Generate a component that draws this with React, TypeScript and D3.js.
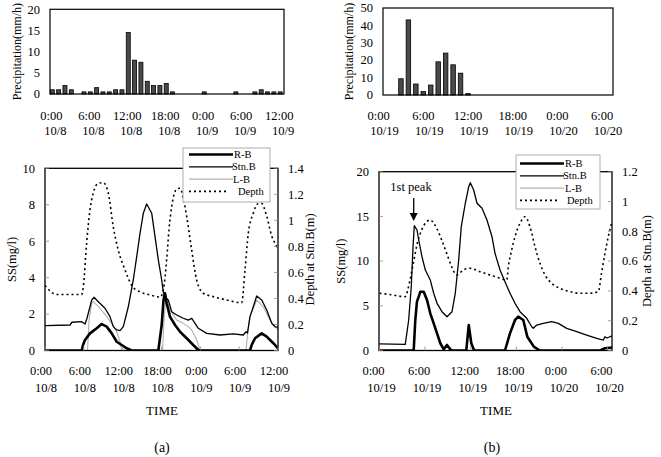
import React from 'react';
import * as d3 from 'd3';

// ---------- DATA ----------
// (a) hourly precipitation, 0:00 10/8 .. 12:00 10/9 (mm/h)
const rainA = [1, 1, 2, 1, 0, 0.5, 0.5, 1.5, 0.5, 0.5, 1, 1, 14.5, 8, 7.5, 3, 2, 2, 2.5, 0.5, 0, 0, 0, 0, 0.5, 0, 0, 0, 0, 0.5, 0, 0, 0.5, 1, 0.5, 0.5, 0.5];
// (b) hourly precipitation, 0:00 10/19 .. 6:00 10/20 (mm/h)
const rainB = [0, 0, 0, 9.3, 43, 6.3, 2, 5.7, 19, 24, 17.3, 12.5, 0.8, 0, 0, 0, 0, 0, 0, 0, 0, 0, 0, 0, 0, 0, 0, 0, 0, 0, 0];

const timeLabelsA = ['0:00', '6:00', '12:00', '18:00', '0:00', '6:00', '12:00'];
const dateLabelsA = ['10/8', '10/8', '10/8', '10/8', '10/9', '10/9', '10/9'];
const timeLabelsB = ['0:00', '6:00', '12:00', '18:00', '0:00', '6:00'];
const dateLabelsB = ['10/19', '10/19', '10/19', '10/19', '10/20', '10/20'];

const rainTicksA = [0, 5, 10, 15, 20];
const rainTicksB = [0, 10, 20, 30, 40, 50];
const ssTicksA = [0, 2, 4, 6, 8, 10];
const depthTicksA = ['0', '0.2', '0.4', '0.6', '0.8', '1', '1.2', '1.4'];
const ssTicksB = [0, 5, 10, 15, 20];
const depthTicksB = ['0', '0.2', '0.4', '0.6', '0.8', '1', '1.2'];

// (a) series: [hours from 0:00 10/8, value]
const aDepth: [number, number][] = [
  [0, 0.5], [1.8, 0.43], [5.67, 0.43], [5.92, 0.49], [6.44, 0.83], [6.95, 1.08], [7.46, 1.21], [8.24, 1.285],
  [9.0, 1.29], [9.78, 1.21], [10.55, 0.95], [11.33, 0.77], [12.36, 0.62], [13.4, 0.5], [14.68, 0.45], [16.22, 0.427],
  [17.26, 0.414], [17.8, 0.41], [18.28, 0.465], [18.8, 0.7], [19.16, 0.93], [19.62, 1.12], [20.35, 1.24], [20.86, 1.247],
  [21.37, 1.17], [21.89, 1.03], [22.67, 0.77], [23.44, 0.54], [24.46, 0.44], [26.0, 0.414], [28.08, 0.388], [30.39, 0.367],
  [30.9, 0.62], [31.41, 0.9], [32.18, 1.055], [32.96, 1.13], [33.48, 1.13], [34.26, 1.03], [35.03, 0.88], [35.8, 0.8], [36, 0.78],
];
const aStn: [number, number][] = [
  [0, 1.36], [3.86, 1.4], [4.17, 1.55], [5.67, 1.58], [6.18, 1.45], [6.49, 1.77], [7.22, 2.77], [7.57, 2.92],
  [8.24, 2.68], [9.27, 2.32], [10.04, 1.86], [10.55, 1.31], [11.08, 1.13], [11.59, 1.09], [12.1, 1.31], [12.87, 2.4],
  [13.64, 3.87], [14.17, 5.15], [14.68, 6.43], [15.19, 7.53], [15.71, 8.04], [16.49, 7.53], [17.0, 6.25], [17.51, 4.97],
  [18.03, 3.87], [18.28, 3.21], [18.54, 2.94], [19.05, 2.77], [19.58, 2.13], [20.35, 1.95], [21.37, 1.77], [22.14, 1.67],
  [22.67, 1.77], [23.18, 1.49], [23.69, 1.22], [24.98, 0.94], [27.04, 0.85], [29.09, 0.91], [30.64, 0.85], [31.06, 1.03],
  [31.29, 0.96], [31.67, 1.86], [32.18, 2.4], [32.71, 2.99], [33.48, 2.77], [34.26, 2.22], [35.03, 1.49], [35.54, 1.3], [36, 1.28],
];
const aRB: [number, number][] = [
  [0, 0], [5.67, 0], [5.87, 0.3], [6.18, 0.58], [6.95, 0.94], [7.99, 1.22], [8.76, 1.45], [9.53, 1.31], [10.31, 0.94],
  [11.08, 0.48], [11.85, 0.3], [12.62, 0.12], [13.4, 0], [17.51, 0], [18.03, 1.4], [18.31, 2.77], [18.54, 3.14],
  [18.8, 2.59], [19.31, 1.86], [20.09, 1.4], [20.86, 1.03], [21.89, 0.67], [22.91, 0.3], [23.69, 0.03], [23.95, 0],
  [31.67, 0], [31.93, 0.3], [32.45, 0.67], [33.48, 0.94], [34.26, 0.76], [35.28, 0.4], [36, 0.12],
];
const aLB: [number, number][] = [
  [0, 0], [6.57, 0], [6.8, 1.67], [7.22, 2.59], [7.46, 2.68], [8.5, 2.32], [9.53, 1.86], [10.31, 1.49], [11.08, 1.03],
  [11.59, 0.48], [11.85, 0], [18.16, 0], [18.39, 1.67], [18.7, 2.95], [19.31, 2.22], [20.35, 1.67], [21.37, 1.49],
  [22.14, 1.31], [22.67, 1.13], [23.44, 0.58], [23.95, 0], [31.06, 0], [31.37, 1.13], [31.67, 1.86], [32.71, 2.77],
  [33.73, 2.4], [34.76, 1.67], [36, 1.13],
];

// (b) series: [hours from 0:00 10/19, value]
const bDepth: [number, number][] = [
  [0, 0.384], [1.82, 0.372], [3.36, 0.361], [4.01, 0.473], [4.45, 0.585], [4.97, 0.719], [5.55, 0.809], [6.21, 0.864],
  [6.64, 0.876], [7.53, 0.82], [8.18, 0.742], [8.84, 0.652], [9.5, 0.562], [10.16, 0.507], [11.03, 0.54], [11.91, 0.552],
  [13.22, 0.529], [14.54, 0.507], [15.86, 0.485], [16.74, 0.473], [16.95, 0.562], [17.39, 0.674], [17.83, 0.764],
  [18.49, 0.854], [19.14, 0.898], [19.8, 0.831], [20.46, 0.697], [21.12, 0.585], [21.78, 0.507], [22.66, 0.451],
  [23.75, 0.417], [25.07, 0.395], [26.38, 0.384], [27.7, 0.384], [28.79, 0.395], [29.21, 0.518], [29.67, 0.652],
  [30.1, 0.764], [30.55, 0.854], [30.6, 0.862],
];
const bStn: [number, number][] = [
  [0, 0.73], [3.39, 0.69], [3.84, 3.41], [4.18, 7.14], [4.41, 11.61], [4.58, 13.96], [4.93, 13.48], [5.16, 12.36],
  [5.59, 10.49], [6.03, 9.0], [6.68, 7.89], [7.13, 6.4], [7.57, 5.28], [8.22, 4.34], [8.88, 3.78], [9.54, 4.34],
  [9.97, 6.4], [10.42, 10.12], [10.76, 13.85], [11.29, 16.47], [11.74, 18.32], [11.95, 18.77], [12.39, 17.95],
  [12.83, 16.47], [13.49, 15.91], [14.14, 14.6], [14.8, 12.73], [15.2, 10.87], [15.86, 9.0], [16.51, 7.7], [17.17, 6.4],
  [17.83, 5.28], [18.49, 4.34], [19.37, 3.6], [20.03, 2.66], [20.24, 2.48], [20.68, 2.85], [21.55, 3.04], [22.66, 3.22],
  [23.53, 3.04], [24.63, 2.48], [25.95, 2.1], [27.26, 1.73], [28.58, 1.36], [29.45, 1.17], [29.67, 1.54], [29.93, 1.4],
  [30.33, 1.54], [30.6, 1.62],
];
const bRB: [number, number][] = [
  [0, 0], [4.5, 0], [4.71, 3.41], [4.93, 5.46], [5.16, 6.02], [5.37, 6.58], [5.82, 6.58], [6.25, 5.65], [6.68, 4.16],
  [7.13, 3.04], [7.57, 1.92], [8.0, 0.81], [8.45, 0.13], [8.88, 0.62], [9.32, 0.13], [9.54, 0], [11.42, 0], [11.74, 2.85],
  [12.08, 0.81], [12.39, 0.13], [12.57, 0], [16.51, 0], [17.17, 1.92], [17.83, 3.41], [18.26, 3.78], [18.92, 3.41],
  [19.45, 1.54], [20.3, 0.43], [21.1, 0], [29.01, 0], [29.67, 0.25], [30.6, 0.34],
];
const bLB: [number, number][] = [[0, 0], [30.6, 0]];

const seriesNames = ['R-B', 'Stn.B', 'L-B', 'Depth'];

// ---------- STYLE ----------
const FONT = '"Liberation Serif", "Times New Roman", serif';
const styles: Record<string, { stroke: string; width: number; dash?: string }> = {
  'R-B': { stroke: '#000', width: 2.6 },
  'Stn.B': { stroke: '#000', width: 1.3 },
  'L-B': { stroke: '#b0b0b0', width: 1.1 },
  Depth: { stroke: '#000', width: 1.6, dash: '2,3' },
};

function PrecipPanel(props: {
  data: number[]; x: d3.ScaleLinear<number, number>; y: d3.ScaleLinear<number, number>;
  box: [number, number, number, number]; ticks: number[]; times: string[]; dates: string[];
  labelHours: number[]; barW: number; ylabX: number; l1dx: number; l2dx: number;
}) {
  const { data, x, y, box, ticks, times, dates, labelHours, barW, ylabX, l1dx, l2dx } = props;
  const [x0, y0, x1, y1] = box;
  return (
    <g>
      {data.map((v, i) => v > 0 ? (
        <rect key={i} x={x(i) - barW / 2} y={y(v)} width={barW} height={y(0) - y(v)} fill="#4a4a4a" stroke="#000" strokeWidth={0.8} />
      ) : null)}
      <rect x={x0} y={y0} width={x1 - x0} height={y1 - y0} fill="none" stroke="#000" strokeWidth={1.2} />
      {ticks.map(t => (
        <text key={t} x={x0 - 10} y={y(t)} dy="0.35em" textAnchor="end" fontSize={12.5} fontFamily={FONT}>{t}</text>
      ))}
      {labelHours.map((h, i) => (
        <g key={i}>
          <text x={x(h) + l1dx} y={120} textAnchor="middle" fontSize={12.5} fontFamily={FONT}>{times[i]}</text>
          <text x={x(h) + l2dx} y={135} textAnchor="middle" fontSize={12.5} fontFamily={FONT}>{dates[i]}</text>
        </g>
      ))}
      <text transform={`translate(${ylabX},${(y0 + y1) / 2}) rotate(-90)`} textAnchor="middle" fontSize={12} fontFamily={FONT}>Precipitation(mm/h)</text>
    </g>
  );
}

function SSPanel(props: {
  x: d3.ScaleLinear<number, number>; ys: d3.ScaleLinear<number, number>; yd: d3.ScaleLinear<number, number>;
  box: [number, number, number, number]; ssTicks: number[]; dTicks: string[];
  times: string[]; dates: string[]; labelHours: number[];
  rb: [number, number][]; stn: [number, number][]; lb: [number, number][]; depth: [number, number][];
  legend: { x: number; y: number; w: number; h: number; rows: number[]; lx0: number; lx1: number; tx: number[] };
  leftLabX: number; rightLabX: number; l1dx: number; l2dx: number; caption: string; captionX: number; timeX: number;
  children?: React.ReactNode;
}) {
  const p = props;
  const [x0, y0, x1, y1] = p.box;
  const lineS = d3.line<[number, number]>().x(d => p.x(d[0])).y(d => p.ys(d[1]));
  const lineD = d3.line<[number, number]>().x(d => p.x(d[0])).y(d => p.yd(d[1])).curve(d3.curveMonotoneX);
  const paths: [string, string][] = [
    ['L-B', lineS(p.lb) || ''],
    ['Depth', lineD(p.depth) || ''],
    ['Stn.B', lineS(p.stn) || ''],
    ['R-B', lineS(p.rb) || ''],
  ];
  const lg = p.legend;
  return (
    <g>
      <defs>
        <clipPath id={`clip-${p.caption}`}><rect x={x0} y={y0 - 2} width={x1 - x0} height={y1 - y0 + 2} /></clipPath>
      </defs>
      <g clipPath={`url(#clip-${p.caption})`}>
        {paths.map(([k, d]) => (
          <path key={k} d={d} fill="none" stroke={styles[k].stroke} strokeWidth={styles[k].width}
            strokeDasharray={styles[k].dash} strokeLinejoin="round" />
        ))}
      </g>
      <rect x={x0} y={y0} width={x1 - x0} height={y1 - y0} fill="none" stroke="#000" strokeWidth={1.3} />
      {p.ssTicks.map(t => (
        <g key={t}>
          <line x1={x0} x2={x0 + 4} y1={p.ys(t)} y2={p.ys(t)} stroke="#888" strokeWidth={0.8} />
          <text x={x0 - 10} y={p.ys(t)} dy="0.35em" textAnchor="end" fontSize={12.5} fontFamily={FONT}>{t}</text>
        </g>
      ))}
      {p.dTicks.map(t => (
        <g key={t}>
          <line x1={x1 - 4} x2={x1} y1={p.yd(+t)} y2={p.yd(+t)} stroke="#888" strokeWidth={0.8} />
          <text x={x1 + 10} y={p.yd(+t)} dy="0.35em" textAnchor="start" fontSize={12.5} fontFamily={FONT}>{t}</text>
        </g>
      ))}
      {p.labelHours.map((h, i) => (
        <g key={i}>
          <line x1={p.x(h)} x2={p.x(h)} y1={y1} y2={y1 - 4} stroke="#888" strokeWidth={0.8} />
          <text x={p.x(h) + p.l1dx} y={375} textAnchor="middle" fontSize={12.5} fontFamily={FONT}>{p.times[i]}</text>
          <text x={p.x(h) + p.l2dx} y={392} textAnchor="middle" fontSize={12.5} fontFamily={FONT}>{p.dates[i]}</text>
        </g>
      ))}
      <text x={p.timeX} y={415} textAnchor="middle" fontSize={13} fontFamily={FONT}>TIME</text>
      <text x={p.captionX} y={452} textAnchor="middle" fontSize={14} fontFamily={FONT}>({p.caption})</text>
      <text transform={`translate(${p.leftLabX},${(y0 + y1) / 2}) rotate(-90)`} textAnchor="middle" fontSize={12.5} fontFamily={FONT}>SS(mg/l)</text>
      <text transform={`translate(${p.rightLabX},${(y0 + y1) / 2}) rotate(-90)`} textAnchor="middle" fontSize={12.5} fontFamily={FONT}>Depth at Stn.B(m)</text>
      <rect x={lg.x} y={lg.y} width={lg.w} height={lg.h} fill="#fff" stroke="#999" strokeWidth={0.8} />
      {seriesNames.map((k, i) => (
        <g key={k}>
          <line x1={lg.lx0} x2={k === 'Depth' ? lg.lx1 - 4 : lg.lx1} y1={lg.rows[i]} y2={lg.rows[i]}
            stroke={styles[k].stroke} strokeWidth={styles[k].width} strokeDasharray={styles[k].dash} />
          <text x={lg.tx[i]} y={lg.rows[i]} dy="0.35em" fontSize={10.5} fontFamily={FONT}>{k}</text>
        </g>
      ))}
      {p.children}
    </g>
  );
}

export default function App() {
  // top panels
  const xTA = d3.scaleLinear().domain([0, 36]).range([52.3, 280.2]);
  const yTA = d3.scaleLinear().domain([0, 20]).range([94, 9.3]);
  const xTB = d3.scaleLinear().domain([0, 30]).range([378.6, 602.1]);
  const yTB = d3.scaleLinear().domain([0, 50]).range([95, 7.7]);
  // bottom panels
  const xA = d3.scaleLinear().domain([0, 36]).range([45, 278]);
  const ySA = d3.scaleLinear().domain([0, 10]).range([350.5, 168.3]);
  const yDA = d3.scaleLinear().domain([0, 1.4]).range([350.5, 168.3]);
  const xB = d3.scaleLinear().domain([0, 30]).range([379.5, 607.5]);
  const ySB = d3.scaleLinear().domain([0, 20]).range([350.5, 171.7]);
  const yDB = d3.scaleLinear().domain([0, 1.2]).range([350.5, 171.7]);

  const hoursA = [0, 6, 12, 18, 24, 30, 36];
  const hoursB = [0, 6, 12, 18, 24, 30];

  return (
    <svg width={661} height={457} style={{ position: 'absolute', left: 0, top: 0, background: '#fff' }}>
      <rect x={0} y={0} width={661} height={457} fill="#fff" />
      <PrecipPanel data={rainA} x={xTA} y={yTA} box={[50, 9.3, 284, 94]} ticks={rainTicksA}
        times={timeLabelsA} dates={dateLabelsA} labelHours={hoursA} barW={4} ylabX={21} l1dx={-1} l2dx={3} />
      <PrecipPanel data={rainB} x={xTB} y={yTB} box={[383, 8, 613, 95]} ticks={rainTicksB}
        times={timeLabelsB} dates={dateLabelsB} labelHours={hoursB} barW={4.5} ylabX={353} l1dx={0} l2dx={6} />

      <SSPanel x={xA} ys={ySA} yd={yDA} box={[45, 168.3, 278, 350.5]} ssTicks={ssTicksA} dTicks={depthTicksA}
        times={timeLabelsA} dates={dateLabelsA} labelHours={hoursA}
        rb={aRB} stn={aStn} lb={aLB} depth={aDepth}
        legend={{ x: 183, y: 148, w: 87, h: 54, rows: [154.5, 166.8, 179.1, 191.4], lx0: 189, lx1: 233, tx: [234, 232, 233, 238] }}
        leftLabX={16} rightLabX={314} l1dx={-4} l2dx={1} caption="a" captionX={162} timeX={162} />

      <SSPanel x={xB} ys={ySB} yd={yDB} box={[379, 171.7, 612, 350.5]} ssTicks={ssTicksB} dTicks={depthTicksB}
        times={timeLabelsB} dates={dateLabelsB} labelHours={hoursB}
        rb={bRB} stn={bStn} lb={bLB} depth={bDepth}
        legend={{ x: 516, y: 155, w: 84, h: 54, rows: [163.5, 175.8, 188.1, 200.4], lx0: 520, lx1: 564, tx: [565, 563, 565, 567] }}
        leftLabX={345} rightLabX={651} l1dx={-6} l2dx={2} caption="b" captionX={492} timeX={496}>
        <text x={411} y={191} textAnchor="middle" fontSize={12.5} fontFamily={FONT}>1st peak</text>
        <line x1={413.7} x2={413.7} y1={198} y2={214} stroke="#000" strokeWidth={1.3} />
        <path d="M409.7,213 L417.7,213 L413.7,221 Z" fill="#000" />
      </SSPanel>
    </svg>
  );
}
